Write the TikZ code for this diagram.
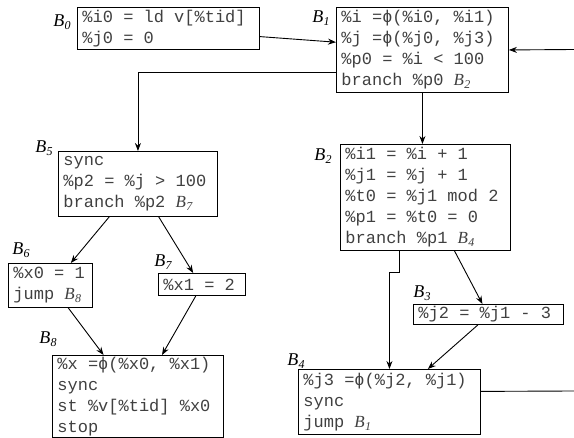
\documentclass[tikz,border=0pt]{standalone}
\usepackage{fontspec}
\newfontfamily\codefont{Liberation Mono}
\newfontfamily\lserif{Liberation Serif}
\usetikzlibrary{arrows.meta,calc}
% code font at 17pt
\newcommand\codesize{\codefont\fontsize{17}{21}\selectfont}
% block name: italic B with italic subscript
\newcommand\blk[1]{{\lserif\itshape B\kern0.3pt\raisebox{-0.35ex}{\fontsize{12}{12}\selectfont #1}}}
\begin{document}
\begin{tikzpicture}[x=1pt,y=-1pt,
  block/.style={draw, line width=0.9pt, anchor=north west, align=flush left,
    font=\codesize, text=black!75,
    execute at begin node={\spaceskip=0.6em\xspaceskip=0.6em\relax},
    inner xsep=5pt, inner ysep=0pt},
  bname/.style={font=\fontsize{18}{18}\selectfont, inner sep=0pt},
  edge/.style={line width=0.9pt, -{Stealth[length=8pt,width=6pt]}},
  plain/.style={line width=0.9pt}]
\useasboundingbox (0,0) rectangle (574,438);

% basic blocks
\node[block, text width=172pt, minimum height=42pt] (b0) at (77,7)
  {\%i0 = ld v[\%tid]\\ \%j0 = 0};
\node[block, text width=162pt, minimum height=85pt] (b1) at (336,7)
  {\%i =ϕ(\%i0, \%i1)\\ \%j =ϕ(\%j0, \%j3)\\ \%p0 = \%i < 100\\ branch \%p0 \blk{2}};
\node[block, text width=160pt, minimum height=106pt] (b2) at (340,144)
  {\%i1 = \%i + 1\\ \%j1 = \%j + 1\\ \%t0 = \%j1 mod 2\\ \%p1 = \%t0 = 0\\ branch \%p1 \blk{4}};
\node[block, text width=140pt, minimum height=20pt] (b3) at (413,304)
  {\%j2 = \%j1 - 3};
\node[block, text width=172pt, minimum height=65pt] (b4) at (298,369)
  {\%j3 =ϕ(\%j2, \%j1)\\ sync\\ jump \blk{1}};
\node[block, text width=149pt, minimum height=65pt] (b5) at (58,151)
  {sync\\ \%p2 = \%j > 100\\ branch \%p2 \blk{7}};
\node[block, text width=74pt, minimum height=44pt] (b6) at (8,263)
  {\%x0 = 1\\ jump \blk{8}};
\node[block, text width=77pt, minimum height=22pt] (b7) at (158,273)
  {\%x1 = 2};
\node[block, text width=161pt, minimum height=82pt] (b8) at (52,355)
  {\%x =ϕ(\%x0, \%x1)\\ sync\\ st \%v[\%tid] \%x0\\ stop};

% block names
\node[bname] (n0) at (62,22) {\blk{0}};
\node[bname] (n1) at (321,18) {\blk{1}};
\node[bname] (n2) at (323,156) {\blk{2}};
\node[bname] (n3) at (422,293) {\blk{3}};
\node[bname] (n4) at (296,361) {\blk{4}};
\node[bname] (n5) at (44,148) {\blk{5}};
\node[bname] (n6) at (21,250) {\blk{6}};
\node[bname] (n7) at (163,262) {\blk{7}};
\node[bname] (n8) at (48,339) {\blk{8}};

% loop back edge, entering and leaving at the right border
\coordinate (backin) at (574,49.5);
\coordinate (backout) at (574,391);

% control flow edges
\draw[edge] ($(b0.north east)!0.69!(b0.south east)$) -- ($(b1.north west)!0.41!(b1.south west)$);
\draw[edge] ($(b1.north west)!0.765!(b1.south west)$) -| (b5.north);
\draw[edge] (backin) -- (b1.east);
\draw[edge] (b1.south) -- (b1.south |- b2.north);
\draw[edge] ($(b5.south west)!0.32!(b5.south east)$) -- ($(b6.north west)!0.74!(b6.north east)$);
\draw[edge] ($(b5.south west)!0.63!(b5.south east)$) -- ($(b7.north west)!0.40!(b7.north east)$);
\draw[edge] ($(b6.south west)!0.71!(b6.south east)$) -- ($(b8.north west)!0.30!(b8.north east)$);
\draw[edge] ($(b7.south west)!0.43!(b7.south east)$) -- ($(b8.north west)!0.64!(b8.north east)$);
\draw[edge] ($(b2.south west)!0.67!(b2.south east)$) -- ($(b3.north west)!0.46!(b3.north east)$);
\draw[edge] ($(b2.south west)!0.35!(b2.south east)$) -- ++(0,22) -| (b4.north);
\draw[edge] ($(b3.south west)!0.43!(b3.south east)$) -- ($(b4.north west)!0.71!(b4.north east)$);
\draw[plain] ($(b4.north east)!0.34!(b4.south east)$) -- (backout);
\end{tikzpicture}
\end{document}
